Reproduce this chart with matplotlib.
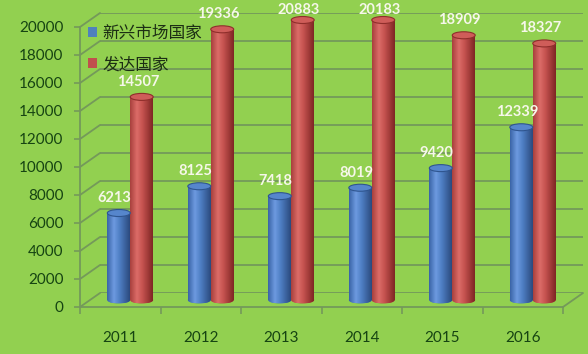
import numpy as np
import matplotlib
matplotlib.use("Agg")
import matplotlib.pyplot as plt
from matplotlib.patches import Ellipse, Patch, ConnectionPatch
from matplotlib.colors import to_rgb
from matplotlib.font_manager import FontProperties

years = ["2011", "2012", "2013", "2014", "2015", "2016"]
emerging = [6213, 8125, 7418, 8019, 9420, 12339]
developed = [14507, 19336, 20883, 20183, 18909, 18327]
series_names = ["新兴市场国家", "发达国家"]
y_ticks = list(range(0, 20001, 2000))
y_max = 20000

W, H = 588, 354
BG = "#92d050"
GRID = "#74995a"
TEXT = "#164412"
LABEL = "#f6f7ea"
NUM_FONT = "Lato"
CJK = FontProperties(family="Noto Sans CJK SC", size=12)

PALETTES = [
    dict(stops=[(0.0, "#3a64a6"), (0.3, "#6d9ae0"), (0.55, "#4f7fc4"), (1.0, "#2b4a7e")],
         base="#4f81bd", cap="#5686cc", rim="#2f558f"),
    dict(stops=[(0.0, "#a8403d"), (0.3, "#dc6c68"), (0.55, "#c5524f"), (1.0, "#7e2624")],
         base="#c0504d", cap="#cf5d59", rim="#8f2e2b"),
]


def gradient(stops, n=64):
    pos = np.array([s[0] for s in stops])
    cols = np.array([to_rgb(s[1]) for s in stops])
    t = np.linspace(0, 1, n)
    rgb = np.stack([np.interp(t, pos, cols[:, k]) for k in range(3)], axis=-1)
    return rgb[np.newaxis, :, :]


fig = plt.figure(figsize=(W / 100, H / 100), dpi=100)
fig.patch.set_facecolor(BG)


def plane(x0, y0):
    # a plot plane of the 3-D box, lower-left corner in pixels
    return [x0 / W, y0 / H, 483 / W, 280 / H]


back = fig.add_axes(plane(100, 61))
front = fig.add_axes(plane(80, 47))
mid = fig.add_axes(plane(90, 54))
for z, ax in enumerate((back, front, mid)):
    ax.set_zorder(z)
    ax.set_facecolor("none")

# back wall gridlines
back.hlines(y_ticks, -0.5, 5.5, color=GRID, lw=1.3)
back.axis("off")

# front frame, ticks and labels
for side in ("top", "right"):
    front.spines[side].set_visible(False)
for side in ("left", "bottom"):
    front.spines[side].set_color(GRID)
    front.spines[side].set_linewidth(1.3)
front.set_xticks(range(len(years)))
front.set_xticklabels(years)
front.set_xticks(np.arange(-0.5, len(years)), minor=True)
front.tick_params(axis="x", which="major", length=0, pad=17, labelsize=11, labelcolor=TEXT)
front.tick_params(axis="x", which="minor", length=5, width=1.2, color=GRID)
front.set_yticks(y_ticks)
front.tick_params(axis="y", length=4, width=1.2, color=GRID, pad=8, labelsize=11, labelcolor=TEXT)
for lab in front.get_xticklabels() + front.get_yticklabels():
    lab.set_fontfamily(NUM_FONT)

# side wall and floor edges joining front and back planes
for t in y_ticks:
    fig.add_artist(ConnectionPatch((-0.5, t), (-0.5, t), coordsA=front.transData,
                                   coordsB=back.transData, color=GRID, lw=1.3))
fig.add_artist(ConnectionPatch((5.5, 0), (5.5, 0), coordsA=front.transData,
                               coordsB=back.transData, color=GRID, lw=1.3))

# cylinders
w = 0.285
eh = 500
xs = np.arange(len(years))
for values, shift, pal in ((emerging, -w / 2, PALETTES[0]), (developed, w / 2, PALETTES[1])):
    grad = gradient(pal["stops"])
    bars = mid.bar(xs + shift, values, width=w, color=pal["base"], lw=0, zorder=2)
    for bar, v in zip(bars, values):
        x0 = bar.get_x()
        xc = x0 + w / 2
        mid.imshow(grad, extent=(x0, x0 + w, 0, v), aspect="auto",
                   interpolation="bilinear", zorder=2.1)
        foot = Ellipse((xc, 0), w, eh, fc=pal["base"], lw=0, clip_on=False, zorder=1.5)
        mid.add_patch(foot)
        fimg = mid.imshow(grad, extent=(x0, x0 + w, -eh / 2, eh / 2), aspect="auto",
                          interpolation="bilinear", zorder=1.6)
        fimg.set_clip_path(foot)
        fimg.set_clip_box(fig.bbox)
        top = min(v, y_max)
        mid.add_patch(Ellipse((xc, top), w, eh, fc=pal["cap"], ec=pal["rim"], lw=0.8,
                              clip_on=False, zorder=3))
        mid.annotate(f"{v}", xy=(xc, top), xytext=(-4, 15 if v <= y_max else 10),
                     textcoords="offset pixels", ha="center", va="center",
                     color=LABEL, fontsize=10.5, fontfamily=NUM_FONT, fontweight="bold",
                     annotation_clip=False, zorder=4)
mid.axis("off")

for ax in (back, front, mid):
    ax.set_xlim(-0.5, 5.5)
    ax.set_ylim(0, y_max)

handles = [Patch(fc=PALETTES[0]["base"]), Patch(fc=PALETTES[1]["base"])]
front.legend(handles, series_names, loc="upper left", bbox_to_anchor=(88 / W, 1 - 25 / H),
             bbox_transform=fig.transFigure, frameon=False, prop=CJK, labelcolor="#1c2e14",
             handlelength=0.55, handleheight=0.55, handletextpad=0.3, labelspacing=0.85,
             borderpad=0, borderaxespad=0)

fig.savefig("out.png", dpi=100, facecolor=BG)
